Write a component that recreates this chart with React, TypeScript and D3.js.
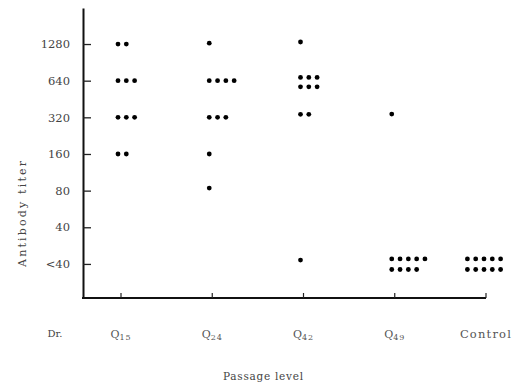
import React, { useEffect, useRef } from 'react';
import * as d3 from 'd3';

// passage levels on the x axis
const categories = ['Q15', 'Q24', 'Q42', 'Q49', 'Control'];
const catLabels = [
    { main: 'Q', sub: '15' },
    { main: 'Q', sub: '24' },
    { main: 'Q', sub: '42' },
    { main: 'Q', sub: '49' },
    { main: 'Control', sub: '' },
];

// titer levels (<40 plotted as 20)
const titerTicks = [20, 40, 80, 160, 320, 640, 1280];
const titerLabels = ['<40', '40', '80', '160', '320', '640', '1280'];

// one value per dot
const q15 = [1280, 1280, 640, 640, 640, 320, 320, 320, 160, 160];
const q24 = [1300, 640, 640, 640, 640, 320, 320, 320, 160, 84];
const q42 = [1330, 680, 680, 680, 570, 570, 570, 339, 339, 21.5];
const q49 = [340, 22, 22, 22, 22, 22, 18, 18, 18, 18];
const control = [22, 22, 22, 22, 22, 18, 18, 18, 18, 18];
const seriesValues = [q15, q24, q42, q49, control];

const serif = '"DejaVu Serif", serif';

const App = () => {
    const svgRef = useRef(null);
    const width = 517;
    const height = 386;

    useEffect(() => {
        const svg = d3.select(svgRef.current);
        svg.selectAll('*').remove();

        const left = 83;
        const bottom = 298;
        const top = 8;

        const x = d3.scalePoint().domain(categories).range([121, 486]);
        const y = d3.scaleLog().base(2).domain([10.5, 2530]).range([bottom, top]);

        // y axis
        const yAxis = svg.append('g')
            .attr('transform', `translate(${left},0)`)
            .call(d3.axisLeft(y)
                .tickValues(titerTicks)
                .tickFormat((d, i) => titerLabels[i])
                .tickSizeInner(-8)
                .tickSizeOuter(0)
                .tickPadding(13));
        yAxis.select('.domain').attr('stroke', '#111').attr('stroke-width', 2);
        yAxis.selectAll('.tick line').attr('stroke', '#222').attr('stroke-width', 1.3);
        yAxis.selectAll('.tick text')
            .attr('fill', '#444')
            .style('font-family', serif)
            .style('font-size', '11.5px');

        // x axis line
        svg.append('line')
            .attr('x1', left - 1).attr('x2', x('Control'))
            .attr('y1', bottom).attr('y2', bottom)
            .attr('stroke', '#111').attr('stroke-width', 2);
        svg.selectAll('.xtick')
            .data(categories)
            .enter()
            .append('line')
            .attr('x1', (d) => x(d)).attr('x2', (d) => x(d))
            .attr('y1', bottom).attr('y2', bottom - 5)
            .attr('stroke', '#222').attr('stroke-width', 1.2);

        // x labels
        const xl = svg.selectAll('.xlab')
            .data(catLabels)
            .enter()
            .append('text')
            .attr('x', (d, i) => x(categories[i]))
            .attr('y', 338)
            .attr('text-anchor', 'middle')
            .attr('fill', '#555')
            .style('font-family', serif);
        xl.append('tspan')
            .style('font-size', (d) => (d.sub ? '11px' : '11.5px'))
            .style('letter-spacing', (d) => (d.sub ? '0px' : '1.2px'))
            .text((d) => d.main);
        xl.append('tspan')
            .attr('dy', 1.5)
            .style('font-size', '8px')
            .style('letter-spacing', '1px')
            .text((d) => d.sub);

        svg.append('text')
            .attr('x', 55).attr('y', 337)
            .attr('text-anchor', 'middle')
            .attr('fill', '#444')
            .style('font-family', serif)
            .style('font-size', '10px')
            .text('Dr.');

        // dots
        const step = 8.3;
        seriesValues.forEach((vals, ci) => {
            const cat = categories[ci];
            const groups = d3.groups(vals, (v) => v);
            groups.forEach(([v, arr]) => {
                const start = cat === 'Control'
                    ? x(cat) - ((arr.length - 1) * step) / 2 - 2
                    : x(cat) - 3;
                svg.selectAll(null)
                    .data(arr)
                    .enter()
                    .append('circle')
                    .attr('cx', (_, i) => start + i * step)
                    .attr('cy', y(v))
                    .attr('r', 2.4)
                    .attr('fill', '#000');
            });
        });

        // axis titles
        svg.append('text')
            .attr('x', 263).attr('y', 380)
            .attr('text-anchor', 'middle')
            .attr('textLength', 80)
            .attr('lengthAdjust', 'spacing')
            .attr('fill', '#444')
            .style('font-family', serif)
            .style('font-size', '10.5px')
            .text('Passage level');

        svg.append('text')
            .attr('transform', 'rotate(-90)')
            .attr('x', -214).attr('y', 26)
            .attr('text-anchor', 'middle')
            .attr('textLength', 106)
            .attr('lengthAdjust', 'spacing')
            .attr('fill', '#444')
            .style('font-family', serif)
            .style('font-size', '11px')
            .text('Antibody titer');
    }, []);

    return (
        <svg
            ref={svgRef}
            width={width}
            height={height}
            style={{ position: 'absolute', left: 0, top: 0, background: '#fff' }}
        />
    );
};

export default App;
